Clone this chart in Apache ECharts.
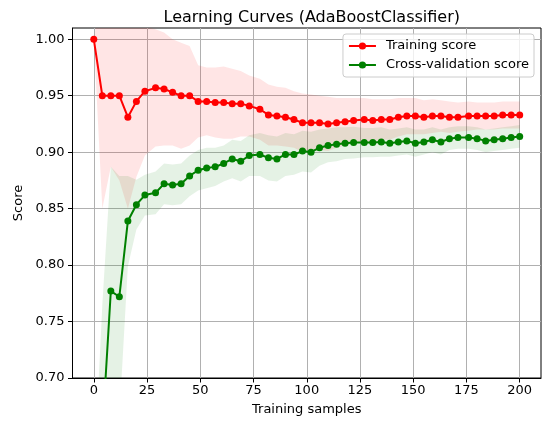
<!DOCTYPE html>
<html><head><meta charset="utf-8">
<script src="https://cdn.jsdelivr.net/npm/echarts@6/dist/echarts.min.js"></script>
<style>html,body{margin:0;padding:0;background:#fff}#c{width:547px;height:423px}</style>
</head><body><div id="c"></div>
<script>
const titleText = 'Learning Curves (AdaBoostClassifier)';
const xName = 'Training samples';
const yName = 'Score';
const seriesNames = ['Training score', 'Cross-validation score'];
const xTicks = [0, 25, 50, 75, 100, 125, 150, 175, 200];
const yTicks = [0.70, 0.75, 0.80, 0.85, 0.90, 0.95, 1.00];
const xRange = [-10, 210];
const yRange = [0.70, 1.01];

const trainSizes = [0,4,8,12,16,20,24,29,33,37,41,45,49,53,57,61,65,69,73,78,82,86,90,94,98,102,106,110,114,118,122,127,131,135,139,143,147,151,155,159,163,167,171,176,180,184,188,192,196,200];

const trainMean = [1.000,0.950,0.950,0.950,0.931,0.945,0.954,0.957,0.956,0.953,
  0.950,0.950,0.945,0.945,0.944,0.944,0.943,0.943,0.941,0.938,
  0.933,0.932,0.931,0.929,0.926,0.926,0.926,0.925,0.926,0.927,
  0.928,0.929,0.928,0.929,0.929,0.931,0.932,0.932,0.931,0.932,
  0.932,0.931,0.931,0.932,0.932,0.932,0.932,0.933,0.933,0.933];

const trainStd = [0.000,0.100,0.063,0.075,0.081,0.067,0.057,0.052,0.050,0.047,
  0.047,0.044,0.032,0.030,0.031,0.032,0.031,0.029,0.027,0.027,
  0.027,0.026,0.026,0.025,0.026,0.025,0.024,0.024,0.022,0.021,
  0.020,0.019,0.019,0.018,0.018,0.017,0.016,0.016,0.015,0.015,
  0.014,0.014,0.013,0.013,0.012,0.012,0.012,0.012,0.012,0.012];

const cvMean = [0.520,0.652,0.777,0.772,0.839,0.8535,0.862,0.864,0.872,0.871,
  0.872,0.879,0.884,0.886,0.887,0.890,0.894,0.892,0.897,0.898,
  0.895,0.894,0.898,0.898,0.901,0.900,0.904,0.906,0.907,0.908,
  0.9085,0.9085,0.9085,0.909,0.908,0.909,0.910,0.908,0.909,0.911,
  0.909,0.912,0.913,0.913,0.912,0.910,0.911,0.912,0.913,0.914];

const cvStd = [0.090,0.113,0.110,0.107,0.040,0.022,0.018,0.019,0.018,0.018,
  0.018,0.018,0.018,0.018,0.017,0.016,0.017,0.018,0.018,0.019,
  0.020,0.020,0.019,0.018,0.018,0.018,0.016,0.015,0.015,0.014,
  0.014,0.013,0.013,0.013,0.012,0.012,0.012,0.012,0.011,0.011,
  0.011,0.010,0.010,0.010,0.010,0.010,0.010,0.010,0.010,0.010];

const FONT = 'DejaVu Sans';
const chart = echarts.init(document.getElementById('c'), null, {renderer: 'canvas'});

function bandSeries(mean, std, color) {
  const data = trainSizes.map((x, i) => [x, mean[i] - std[i], mean[i] + std[i]]);
  return {
    type: 'custom', silent: true, clip: true, z: 1,
    data: data,
    encode: {x: 0, y: [1, 2]},
    renderItem: function (params, api) {
      if (params.dataIndex !== 0) return null;
      const upper = data.map(d => api.coord([d[0], d[2]]));
      const lower = data.map(d => api.coord([d[0], d[1]])).reverse();
      const cs = params.coordSys;
      return {
        type: 'polygon',
        shape: {points: upper.concat(lower)},
        style: {fill: color, stroke: null},
        clipPath: {type: 'rect', shape: {x: cs.x, y: cs.y, width: cs.width, height: cs.height}}
      };
    }
  };
}

function lineSeries(name, mean, color) {
  return {
    type: 'line', name: name, z: 3, clip: true,
    data: trainSizes.map((x, i) => [x, mean[i]]),
    symbol: 'circle', symbolSize: 7, showSymbol: true,
    lineStyle: {color: color, width: 2},
    itemStyle: {color: color},
    emphasis: {disabled: true},
    animation: false
  };
}

chart.setOption({
  animation: false,
  backgroundColor: '#fff',
  title: {
    text: titleText, left: 306.75, top: 5, textAlign: 'center',
    textStyle: {fontFamily: FONT, fontSize: 16, fontWeight: 'normal', color: '#000'}
  },
  legend: {
    data: seriesNames, orient: 'vertical', right: 13, top: 34,
    backgroundColor: 'rgba(255,255,255,0.8)', borderColor: '#cccccc', borderWidth: 1, borderRadius: 3,
    padding: [5, 5, 5, 5], itemWidth: 27, itemHeight: 9, itemGap: 5,
    textStyle: {fontFamily: FONT, fontSize: 13, color: '#000', padding: [0, 0, 0, 5], lineHeight: 14}
  },
  grid: {left: 72.5, right: 6, top: 28, bottom: 45, containLabel: false, outerBoundsMode: 'none',
    show: true, borderColor: '#000', borderWidth: 1},
  xAxis: {
    type: 'value', min: xRange[0], max: xRange[1],
    name: xName, nameLocation: 'middle', nameGap: 25,
    nameTextStyle: {fontFamily: FONT, fontSize: 13, color: '#000'},
    axisLine: {show: true, onZero: false, lineStyle: {color: '#000', width: 1}},
    axisTick: {show: true, length: 4.5, customValues: xTicks, lineStyle: {color: '#000', width: 1}},
    axisLabel: {customValues: xTicks, margin: 6, color: '#000', fontFamily: FONT, fontSize: 13,
      formatter: v => String(Math.round(v))},
    splitLine: {show: true, lineStyle: {color: '#b0b0b0', width: 1}}
  },
  yAxis: {
    type: 'value', min: yRange[0], max: yRange[1],
    name: yName, nameLocation: 'middle', nameGap: 44,
    nameTextStyle: {fontFamily: FONT, fontSize: 13, color: '#000'},
    axisLine: {show: true, onZero: false, lineStyle: {color: '#000', width: 1}},
    axisTick: {show: true, length: 4.5, customValues: yTicks, lineStyle: {color: '#000', width: 1}},
    axisLabel: {customValues: yTicks, margin: 8, color: '#000', fontFamily: FONT, fontSize: 13,
      formatter: v => v.toFixed(2)},
    splitLine: {show: true, lineStyle: {color: '#b0b0b0', width: 1}}
  },
  series: [
    bandSeries(trainMean, trainStd, 'rgba(255,0,0,0.1)'),
    bandSeries(cvMean, cvStd, 'rgba(0,128,0,0.1)'),
    lineSeries(seriesNames[0], trainMean, '#ff0000'),
    lineSeries(seriesNames[1], cvMean, '#008000')
  ]
});
</script></body></html>
